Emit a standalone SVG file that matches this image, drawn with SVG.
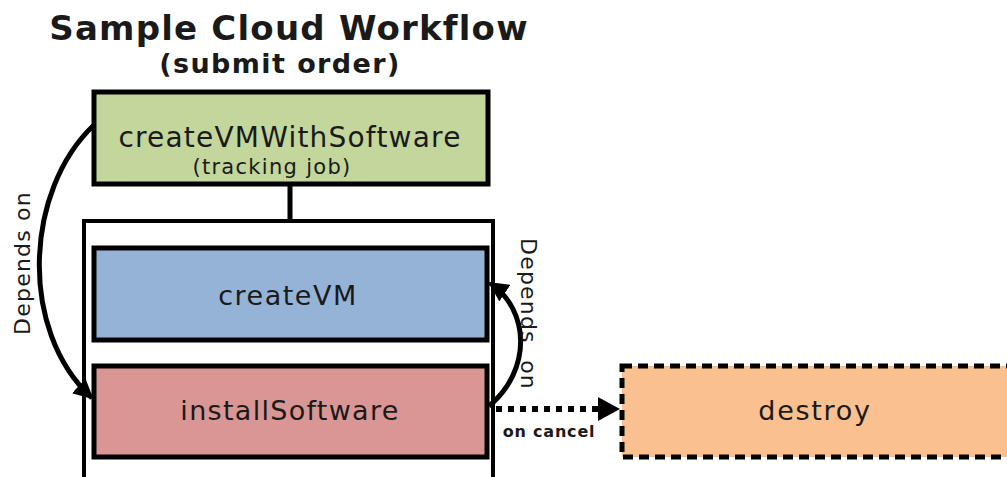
<svg xmlns="http://www.w3.org/2000/svg" width="1007" height="477" viewBox="0 0 1007 477">
<defs>
<style>
.t{font-family:"DejaVu Sans",Verdana,sans-serif;fill:#1a1a1a;text-anchor:middle}
.b{font-weight:bold}
.box{stroke:#000;stroke-width:5}
.conn{fill:none;stroke:#000;stroke-width:5}
</style>
<marker id="ah" viewBox="0 0 10 10" refX="9" refY="5" markerWidth="4" markerHeight="4" orient="auto" markerUnits="strokeWidth">
<path d="M0,0 L10,5 L0,10 z" fill="#000"/>
</marker>
</defs>
<rect width="1007" height="477" fill="#fff"/>
<g id="title">
<text class="t b" x="289" y="40" font-size="34" letter-spacing="1.2">Sample Cloud Workflow</text>
<text class="t b" x="280" y="73" font-size="27" letter-spacing="1.4">(submit order)</text>
</g>
<g id="container">
<path d="M84,480 V221 H493 V480" fill="#fff" stroke="#000" stroke-width="4"/>
</g>
<g id="createVMWithSoftware">
<rect class="box" x="94" y="92" width="394" height="92" fill="#c3d69b"/>
<text class="t" x="290" y="147" font-size="28" letter-spacing="1.2">createVMWithSoftware</text>
<text class="t" x="272" y="174" font-size="21" letter-spacing="1.3">(tracking job)</text>
</g>
<g id="createVM">
<rect class="box" x="94" y="248" width="393" height="92" fill="#95b3d7"/>
<text class="t" x="288" y="305" font-size="27" letter-spacing="1.5">createVM</text>
</g>
<g id="installSoftware">
<rect class="box" x="94" y="366" width="393" height="91" fill="#d99694"/>
<text class="t" x="290" y="420" font-size="27" letter-spacing="1.3">installSoftware</text>
</g>
<g id="destroy">
<rect x="622" y="366" width="400" height="91" fill="#fac090" stroke="#000" stroke-width="5" stroke-dasharray="10,6"/>
<text class="t" x="815" y="420" font-size="27" letter-spacing="1.7">destroy</text>
</g>
<g id="connectors">
<line x1="290" y1="184" x2="290" y2="221" stroke="#000" stroke-width="5"/>
<path class="conn" d="M94,125 C25,190 18,330 92,398" marker-end="url(#ah)"/>
<path class="conn" d="M489,406 C532,370 530,310 490,283" marker-end="url(#ah)"/>
<path d="M496,409 H600" fill="none" stroke="#000" stroke-width="6" stroke-dasharray="6,6"/>
<path d="M598,397 L620,409 L598,421 z" fill="#000"/>
<text class="t" transform="translate(30,263) rotate(-90)" font-size="22" letter-spacing="1.2">Depends on</text>
<text class="t" transform="translate(521,314) rotate(90)" font-size="22" letter-spacing="1.2" xml:space="preserve">Depends  on</text>
<text class="t b" x="549" y="437" font-size="16" letter-spacing="0.8" fill="#1f2f4f">on cancel</text>
</g>
</svg>
